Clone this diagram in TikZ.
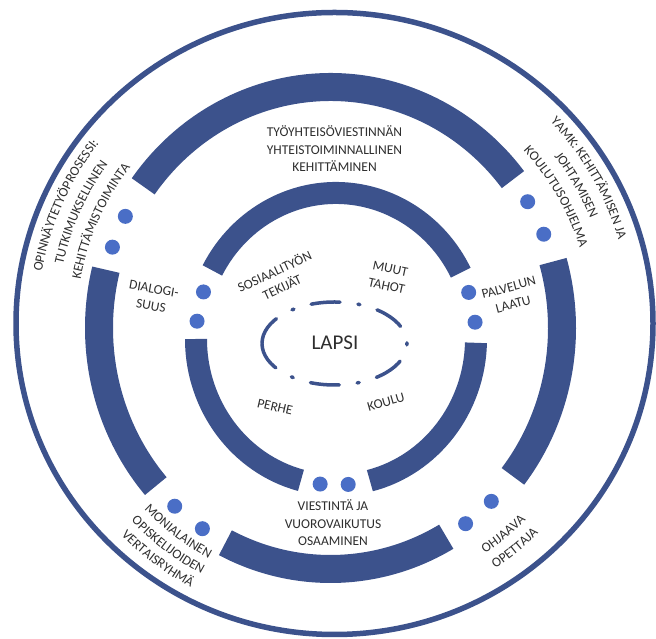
\documentclass[tikz,border=0pt]{standalone}
\usepackage{fontspec}
\setmainfont{Carlito}
\usetikzlibrary{calc,decorations.text}
\newcommand\arcfont{\fontsize{13.5}{16}\selectfont}
\begin{document}
\begin{tikzpicture}[x=1pt,y=1pt,
   band/.style={ringblue,line width=28pt},
   innerband/.style={ringblue,line width=22pt},
   lbl/.style={text=txtgray,font=\fontsize{13.5}{17.5}\selectfont,align=center,inner sep=0pt},
   arclbl/.style={decorate,decoration={text along path,text align=center,text color=txtgray}}]
   \definecolor{ringblue}{HTML}{3C528C}
   \definecolor{dotblue}{HTML}{4A6EC6}
   \definecolor{txtgray}{HTML}{2E2E2E}
   \useasboundingbox (0,0) rectangle (656,639);
   \coordinate (outc) at (334.5,315.5);
   \coordinate (midc) at (330.5,311);
   \coordinate (innc) at (336,300);
   \coordinate (lapc) at (334.5,295.5);
   \coordinate (txtc) at (334,314);
   % outer ring
   \draw [ringblue,line width=5.5pt] (outc) ellipse [x radius=318.5,y radius=311];
   % middle ring
   \foreach \a/\b in {38/144,166/221,243/300,322/376}
      \draw [band] ($(midc)+(\a:231.5 and 241)$) arc [start angle=\a,end angle=\b,x radius=231.5,y radius=241];
   \foreach \a in {152.4,160.4,31.6,22.9,227.7,236.4,-46,-54.3}
      \fill [dotblue] ($(midc)+(\a:231.5 and 241)$) circle (7.5);
   % inner ring
   \foreach \a/\b in {27/152,180/255.5,284/358.5}
      \draw [innerband] ($(innc)+(\a:140 and 146)$) arc [start angle=\a,end angle=\b,x radius=140,y radius=146];
   \foreach \a in {161.2,173,18.6,6.6,263.5,275}
      \fill [dotblue] ($(innc)+(\a:140 and 146)$) circle (7.5);
   % child
   \draw [ringblue,line width=3.5pt,line cap=round,dash pattern=on 29pt off 18pt on 2pt off 18pt]
      ($(lapc)+(180:72.5 and 41.5)$) arc [start angle=180,end angle=540,x radius=72.5,y radius=41.5];
   \node [lbl,font=\fontsize{21}{25}\selectfont] (lapsi) at (335,296) {LAPSI};
   % inner labels
   \node [lbl,rotate=25] (sosiaali) at (278,360) {SOSIAALITYÖN\\TEKIJÄT};
   \node [lbl,rotate=-12] (muut) at (388.5,361.5) {MUUT\\TAHOT};
   \node [lbl,rotate=-13] (perhe) at (275,232) {PERHE};
   \node [lbl,rotate=16] (koulu) at (386,237) {KOULU};
   % ring labels
   \node [lbl] (tyoyhteiso) at (334.5,490) {TYÖYHTEISÖVIESTINNÄN\\YHTEISTOIMINNALLINEN\\KEHITTÄMINEN};
   \node [lbl] (viestinta) at (333,116) {VIESTINTÄ JA\\VUOROVAIKUTUS\\OSAAMINEN};
   \node [lbl,rotate=-10] (dialogi) at (152.5,341.5) {DIALOGI-\\SUUS};
   \node [lbl,rotate=15] (palvelu) at (511,343) {PALVELUN\\LAATU};
   % curved labels
   \path [arclbl,decoration={text={|\arcfont|OPINNÄYTETYÖPROSESSI:}}]
      ($(txtc)+(186:297)$) arc [start angle=186,end angle=126,radius=297];
   \path [arclbl,decoration={text={|\arcfont|TUTKIMUKSELLINEN}}]
      ($(txtc)+(186:277.5)$) arc [start angle=186,end angle=126,radius=277.5];
   \path [arclbl,decoration={text={|\arcfont|KEHITTÄMISTOIMINTA}}]
      ($(txtc)+(186:257.5)$) arc [start angle=186,end angle=126,radius=257.5];
   \path [arclbl,decoration={text={|\arcfont|YAMK: KEHITTÄMISEN JA}}]
      ($(txtc)+(60:297)$) arc [start angle=60,end angle=0,radius=297];
   \path [arclbl,decoration={text={|\arcfont|JOHTAMISEN}}]
      ($(txtc)+(60:277.5)$) arc [start angle=60,end angle=0,radius=277.5];
   \path [arclbl,decoration={text={|\arcfont|KOULUTUSOHJELMA}}]
      ($(txtc)+(60:257.5)$) arc [start angle=60,end angle=0,radius=257.5];
   \path [arclbl,decoration={text={|\arcfont|MONIALAINEN}}]
      ($(txtc)+(213:265)$) arc [start angle=213,end angle=253,radius=265];
   \path [arclbl,decoration={text={|\arcfont|OPISKELIJOIDEN}}]
      ($(txtc)+(213:282)$) arc [start angle=213,end angle=253,radius=282];
   \path [arclbl,decoration={text={|\arcfont|VERTAISRYHMÄ}}]
      ($(txtc)+(213:299)$) arc [start angle=213,end angle=253,radius=299];
   \path [arclbl,decoration={text={|\arcfont|OHJAAVA}}]
      ($(txtc)+(-71:274)$) arc [start angle=-71,end angle=-31,radius=274];
   \path [arclbl,decoration={text={|\arcfont|OPETTAJA}}]
      ($(txtc)+(-71:292)$) arc [start angle=-71,end angle=-31,radius=292];
\end{tikzpicture}
\end{document}
